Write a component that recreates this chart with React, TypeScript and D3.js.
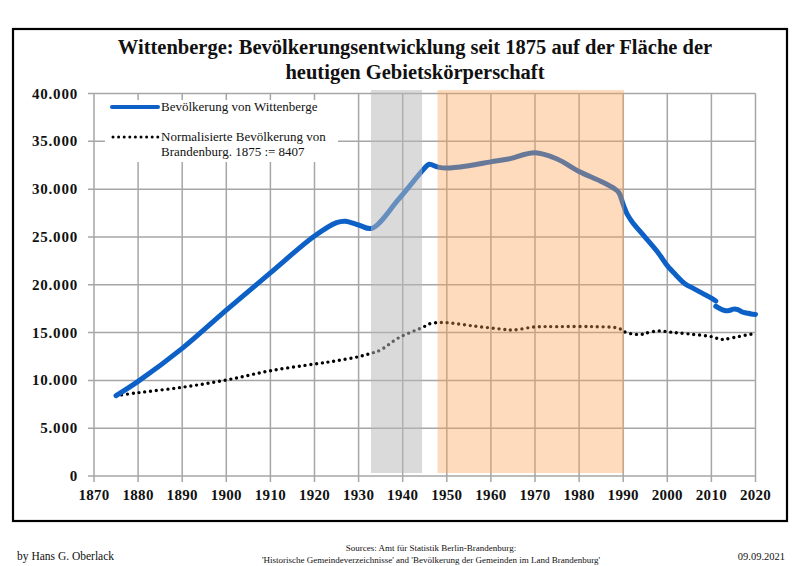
import React from "react";
import * as d3 from "d3";

const titleLines = [
  "Wittenberge: Bevölkerungsentwicklung seit 1875 auf der Fläche der",
  "heutigen Gebietskörperschaft",
];

const xTicks = [1870, 1880, 1890, 1900, 1910, 1920, 1930, 1940, 1950, 1960, 1970, 1980, 1990, 2000, 2010, 2020];
const yTicks = [0, 5000, 10000, 15000, 20000, 25000, 30000, 35000, 40000];

// Wittenberge population, series up to 2011
const popYearsA = [1875, 1880, 1890, 1900, 1910, 1920, 1925, 1927, 1930, 1933, 1939, 1945, 1946, 1948, 1950, 1955, 1960, 1964, 1970, 1975, 1980, 1985, 1988, 1989, 1990, 1991, 1992, 1995, 1998, 2000, 2002, 2004, 2006, 2008, 2010, 2011];
const popValuesA = [8407, 9900, 13350, 17350, 21250, 25100, 26500, 26650, 26250, 25900, 28900, 32200, 32600, 32300, 32200, 32450, 32850, 33150, 33800, 33150, 31850, 30800, 30050, 29650, 28400, 27300, 26600, 24950, 23300, 22000, 21000, 20100, 19600, 19100, 18600, 18300];

// Wittenberge population after 2011 census
const popYearsB = [2011, 2012, 2013, 2014, 2015, 2016, 2017, 2018, 2019, 2020];
const popValuesB = [17750, 17500, 17300, 17300, 17450, 17400, 17150, 17050, 16950, 16900];

// Normalised Brandenburg population (1875 := 8407)
const normYears = [1875, 1880, 1890, 1900, 1910, 1920, 1925, 1930, 1933, 1935, 1939, 1945, 1946, 1948, 1950, 1956, 1962, 1965, 1970, 1975, 1983, 1989, 1990, 1991, 1994, 1995, 1998, 2001, 2005, 2010, 2012, 2013, 2016, 2019, 2020];
const normValues = [8407, 8710, 9280, 10040, 11010, 11710, 12050, 12480, 12850, 13180, 14430, 15650, 15900, 16040, 16040, 15690, 15380, 15270, 15590, 15620, 15620, 15450, 15150, 14950, 14800, 14930, 15170, 15030, 14850, 14570, 14300, 14300, 14570, 14820, 14850];

// Shaded periods
const grayBand = [1932.8, 1944.4];
const orangeBand = [1947.9, 1990.2];

const legendLabels = ["Bevölkerung von Wittenberge", "Normalisierte Bevölkerung von", "Brandenburg. 1875 := 8407"];
const footerLeft = "by Hans G. Oberlack";
const footerSources = [
  "Sources: Amt für Statistik Berlin-Brandenburg:",
  "'Historische Gemeindeverzeichnisse' and 'Bevölkerung der Gemeinden im Land Brandenburg'",
];
const footerDate = "09.09.2021";

const FONT = "'Liberation Serif', 'Times New Roman', serif";
const BLUE = "#0d60c6";
const GRID = "#a6a6a6";

export default function App() {
  const x = d3.scaleLinear().domain([1870, 2020]).range([94, 755.5]);
  const y = d3.scaleLinear().domain([0, 40000]).range([476, 93.5]);

  const line = d3
    .line<[number, number]>()
    .x((d) => x(d[0]))
    .y((d) => y(d[1]))
    .curve(d3.curveCatmullRom.alpha(0.5));

  const pathA = line(popYearsA.map((yr, i) => [yr, popValuesA[i]] as [number, number])) || "";
  const pathB = line(popYearsB.map((yr, i) => [yr, popValuesB[i]] as [number, number])) || "";
  const pathN = line(normYears.map((yr, i) => [yr, normValues[i]] as [number, number])) || "";

  const fmt = (v: number) => (v === 0 ? "0" : d3.format(",")(v).replace(/,/g, "."));

  const bandTop = y(40000) - 3.5;
  const bandBottom = y(0) - 3;

  return (
    <svg width={800} height={566} style={{ position: "absolute", left: 0, top: 0, background: "#fff" }} fontFamily={FONT}>
      <rect x={0} y={0} width={800} height={566} fill="#fff" />
      <rect x={13} y={29} width={774} height={492} fill="#fff" stroke="#000" strokeWidth={2.2} />

      {titleLines.map((t, i) => (
        <text key={i} x={415} y={54 + i * 25} textAnchor="middle" fontSize={20.5} fontWeight="bold" fill="#111">
          {t}
        </text>
      ))}

      {/* grid */}
      {yTicks.map((v) => (
        <line key={"gy" + v} x1={x(1870) - 6} x2={x(2020)} y1={y(v)} y2={y(v)} stroke={GRID} strokeWidth={1.5} />
      ))}
      {xTicks.map((v) => (
        <line key={"gx" + v} x1={x(v)} x2={x(v)} y1={y(40000)} y2={y(0) + 6} stroke={GRID} strokeWidth={1.5} />
      ))}

      {/* lines */}
      <path d={pathN} fill="none" stroke="#000" strokeWidth={3.4} strokeLinecap="round" strokeDasharray="0 5.8" />
      <path d={pathA} fill="none" stroke={BLUE} strokeWidth={5} strokeLinecap="round" strokeLinejoin="round" />
      <path d={pathB} fill="none" stroke={BLUE} strokeWidth={5} strokeLinecap="round" strokeLinejoin="round" />

      {/* bands over everything */}
      <rect x={x(grayBand[0])} y={bandTop} width={x(grayBand[1]) - x(grayBand[0])} height={bandBottom - bandTop} fill="rgb(185,185,185)" fillOpacity={0.52} />
      <rect x={x(orangeBand[0])} y={bandTop} width={x(orangeBand[1]) - x(orangeBand[0])} height={bandBottom - bandTop} fill="rgb(250,160,80)" fillOpacity={0.38} />

      {/* axis labels */}
      {yTicks.map((v) => (
        <text key={"ly" + v} x={78} y={y(v) + 5} textAnchor="end" fontSize={15} fontWeight="bold" fill="#111" letterSpacing={0.8}>
          {fmt(v)}
        </text>
      ))}
      {xTicks.map((v) => (
        <text key={"lx" + v} x={x(v)} y={500} textAnchor="middle" fontSize={15} fontWeight="bold" fill="#111" letterSpacing={0.3}>
          {v}
        </text>
      ))}

      {/* legend */}
      <rect x={105} y={100} width={233} height={62} fill="#fff" />
      <line x1={112} x2={158} y1={107} y2={107} stroke={BLUE} strokeWidth={4} strokeLinecap="round" />
      <text x={161} y={111} fontSize={13} fill="#111">{legendLabels[0]}</text>
      <line x1={113} x2={158} y1={137} y2={137} stroke="#000" strokeWidth={3} strokeLinecap="round" strokeDasharray="0 5.6" />
      <text x={161} y={141} fontSize={13} fill="#111">{legendLabels[1]}</text>
      <text x={161} y={156} fontSize={13} fill="#111">{legendLabels[2]}</text>

      {/* footer */}
      <text x={17} y={560} fontSize={11.5} fill="#111">{footerLeft}</text>
      <text x={431} y={551} textAnchor="middle" fontSize={9} fill="#111">{footerSources[0]}</text>
      <text x={431} y={563} textAnchor="middle" fontSize={9} fill="#111">{footerSources[1]}</text>
      <text x={785} y={560} textAnchor="end" fontSize={10.5} fill="#111">{footerDate}</text>
    </svg>
  );
}
